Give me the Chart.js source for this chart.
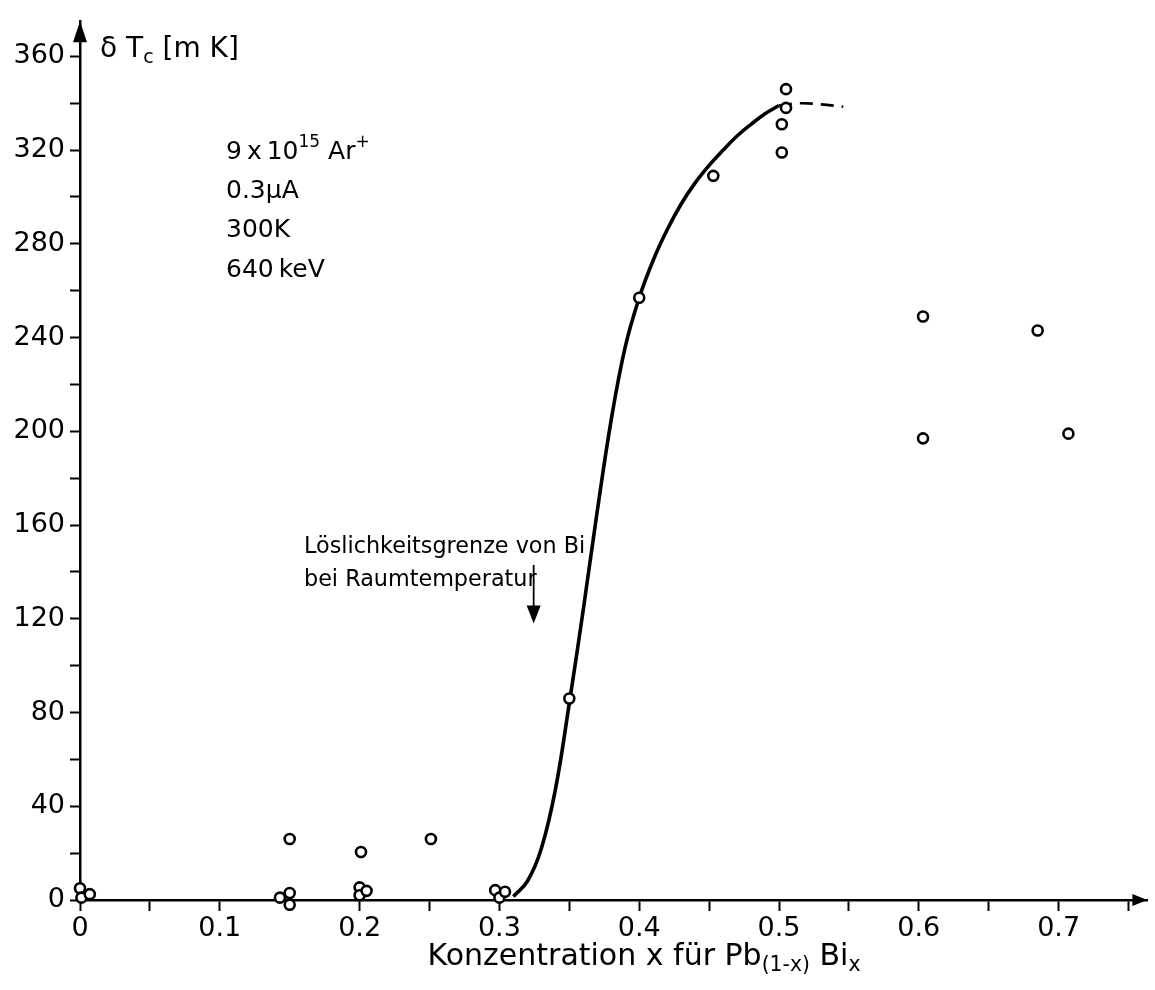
<!DOCTYPE html>
<html>
<head>
<meta charset="utf-8">
<script src="https://cdn.jsdelivr.net/npm/chart.js@4.4.1/dist/chart.umd.min.js"></script>
<style>
  html, body { margin: 0; padding: 0; background: #fff; }
  #wrap { width: 1155px; height: 990px; }
</style>
</head>
<body>
<div id="wrap"><canvas id="chart" width="1155" height="990"></canvas></div>
<script>
// achsen
const xTickValues = [0, 0.05, 0.1, 0.15, 0.2, 0.25, 0.3, 0.35, 0.4, 0.45, 0.5, 0.55, 0.6, 0.65, 0.7, 0.75];
const xTickLabels = ['0', '', '0.1', '', '0.2', '', '0.3', '', '0.4', '', '0.5', '', '0.6', '', '0.7', ''];
const yTickValues = [0, 20, 40, 60, 80, 100, 120, 140, 160, 180, 200, 220, 240, 260, 280, 300, 320, 340, 360];
const yTickLabels = ['0', '', '40', '', '80', '', '120', '', '160', '', '200', '', '240', '', '280', '', '320', '', '360'];

// messpunkte
const pointX = [0, 0.001, 0.007, 0.143, 0.15, 0.15, 0.15, 0.2, 0.2, 0.205, 0.201, 0.251, 0.297, 0.3, 0.304, 0.35, 0.4, 0.453, 0.502, 0.502, 0.505, 0.505, 0.603, 0.603, 0.685, 0.707];
const pointY = [5, 1, 2.5, 1, 3, -2, 26, 5.4, 2, 3.9, 20.5, 26, 4.2, 1, 3.5, 86, 257, 309, 319, 331, 338, 346, 249, 197, 243, 199];

// ausgleichskurve (durchgezogen) und verlaengerung (gestrichelt)
const curveX = [0.31, 0.32, 0.33, 0.34, 0.35, 0.36, 0.37, 0.38, 0.39, 0.40, 0.41, 0.42, 0.43, 0.44, 0.45, 0.46, 0.47, 0.48, 0.49, 0.50];
const curveY = [1.5, 8, 22, 47, 84, 124, 166, 205, 236, 257, 273, 286, 297, 306, 313.5, 320, 326, 331, 335.5, 339];
const dashX = [0.5, 0.515, 0.53, 0.546];
const dashY = [339, 340, 339.5, 338.5];

const FONT = '"DejaVu Sans", sans-serif';

function toXY(xs, ys) {
  return xs.map((x, i) => ({ x: x, y: ys[i] }));
}

// text mit hoch-/tiefgestellten teilen zeichnen
function drawRich(ctx, parts, x, y, size) {
  let cx = x;
  parts.forEach(p => {
    const s = p.sub || p.sup ? size * 0.68 : size;
    ctx.font = s + 'px ' + FONT;
    let dy = 0;
    if (p.sub) dy = size * 0.3;
    if (p.sup) dy = -size * 0.38;
    ctx.fillText(p.t, cx, y + dy);
    cx += ctx.measureText(p.t).width;
  });
  return cx - x;
}

function richWidth(ctx, parts, size) {
  let w = 0;
  parts.forEach(p => {
    const s = p.sub || p.sup ? size * 0.68 : size;
    ctx.font = s + 'px ' + FONT;
    w += ctx.measureText(p.t).width;
  });
  return w;
}

const annotations = {
  id: 'annotations',
  afterDraw(chart) {
    const ctx = chart.ctx;
    const xs = chart.scales.x;
    const ys = chart.scales.y;
    const area = chart.chartArea;
    ctx.save();
    ctx.fillStyle = '#000';
    ctx.strokeStyle = '#000';
    ctx.textBaseline = 'middle';
    ctx.textAlign = 'left';

    // pfeil y-achse
    const ax = xs.getPixelForValue(0);
    ctx.beginPath();
    ctx.moveTo(ax, area.top);
    ctx.lineTo(ax - 7, area.top + 21);
    ctx.lineTo(ax + 7, area.top + 21);
    ctx.closePath();
    ctx.fill();
    // pfeil x-achse
    const ay = ys.getPixelForValue(0);
    ctx.beginPath();
    ctx.moveTo(area.right, ay);
    ctx.lineTo(area.right - 15, ay - 6);
    ctx.lineTo(area.right - 15, ay + 6);
    ctx.closePath();
    ctx.fill();

    // achsentitel y
    drawRich(ctx, [{ t: '\u03b4 T' }, { t: 'c', sub: true }, { t: ' [m K]' }], 100, 50, 28);

    // achsentitel x
    const xTitle = [{ t: 'Konzentration x f\u00fcr Pb' }, { t: '(1-x)', sub: true }, { t: ' Bi' }, { t: 'x', sub: true }];
    const tw = richWidth(ctx, xTitle, 30);
    drawRich(ctx, xTitle, 644 - tw / 2, 957, 30);

    // versuchsbedingungen
    const tx = 226;
    drawRich(ctx, [{ t: '9\u2009x\u200910' }, { t: '15', sup: true }, { t: ' Ar' }, { t: '+', sup: true }], tx, 152, 25);
    drawRich(ctx, [{ t: '0.3\u00b5A' }], tx, 191, 25);
    drawRich(ctx, [{ t: '300K' }], tx, 230, 25);
    drawRich(ctx, [{ t: '640\u2009keV' }], tx, 270, 25);

    // loeslichkeitsgrenze
    drawRich(ctx, [{ t: 'L\u00f6slichkeitsgrenze von Bi' }], 304, 547, 22.3);
    drawRich(ctx, [{ t: 'bei Raumtemperatur' }], 304, 580, 22.3);
    const px = xs.getPixelForValue(0.3245);
    const p1 = ys.getPixelForValue(143);
    const p2 = ys.getPixelForValue(118);
    ctx.lineWidth = 1.8;
    ctx.beginPath();
    ctx.moveTo(px, p1);
    ctx.lineTo(px, p2 - 12);
    ctx.stroke();
    ctx.beginPath();
    ctx.moveTo(px, p2);
    ctx.lineTo(px - 7, p2 - 18);
    ctx.lineTo(px + 7, p2 - 18);
    ctx.closePath();
    ctx.fill();
    ctx.restore();
  }
};

new Chart(document.getElementById('chart'), {
  type: 'scatter',
  data: {
    datasets: [
      {
        data: toXY(pointX, pointY),
        pointRadius: 5,
        pointHoverRadius: 5,
        borderWidth: 2.6,
        borderColor: '#000',
        backgroundColor: '#fff',
        clip: false,
        order: 0
      },
      {
        type: 'line',
        data: toXY(curveX, curveY),
        borderColor: '#000',
        borderWidth: 3.6,
        pointRadius: 0,
        tension: 0.4,
        fill: false,
        clip: false,
        order: 1
      },
      {
        type: 'line',
        data: toXY(dashX, dashY),
        borderColor: '#000',
        borderWidth: 2.6,
        borderDash: [13, 8],
        pointRadius: 0,
        tension: 0.4,
        fill: false,
        clip: false,
        order: 1
      }
    ]
  },
  options: {
    responsive: false,
    animation: false,
    events: [],
    layout: { padding: { top: 14, right: 0, left: 0, bottom: 0 } },
    plugins: {
      legend: { display: false },
      tooltip: { enabled: false }
    },
    scales: {
      x: {
        type: 'linear',
        min: 0,
        max: 0.7635,
        afterBuildTicks: s => { s.ticks = xTickValues.map(v => ({ value: v })); },
        afterFit: s => { s.height = 90; },
        ticks: {
          autoSkip: false,
          maxRotation: 0,
          padding: 2,
          color: '#000',
          font: { family: FONT, size: 27 },
          callback: (v, i) => xTickLabels[i]
        },
        grid: { drawOnChartArea: false, tickLength: 11, tickWidth: 2, tickColor: '#000' },
        border: { display: true, color: '#000', width: 2.5 }
      },
      y: {
        type: 'linear',
        min: 0,
        max: 375,
        afterBuildTicks: s => { s.ticks = yTickValues.map(v => ({ value: v })); },
        afterFit: s => { s.width = 80; },
        ticks: {
          autoSkip: false,
          padding: 5,
          color: '#000',
          font: { family: FONT, size: 27 },
          callback: (v, i) => yTickLabels[i]
        },
        grid: { drawOnChartArea: false, tickLength: 10, tickWidth: 2, tickColor: '#000' },
        border: { display: true, color: '#000', width: 2.5 }
      }
    }
  },
  plugins: [annotations]
});
</script>
</body>
</html>
